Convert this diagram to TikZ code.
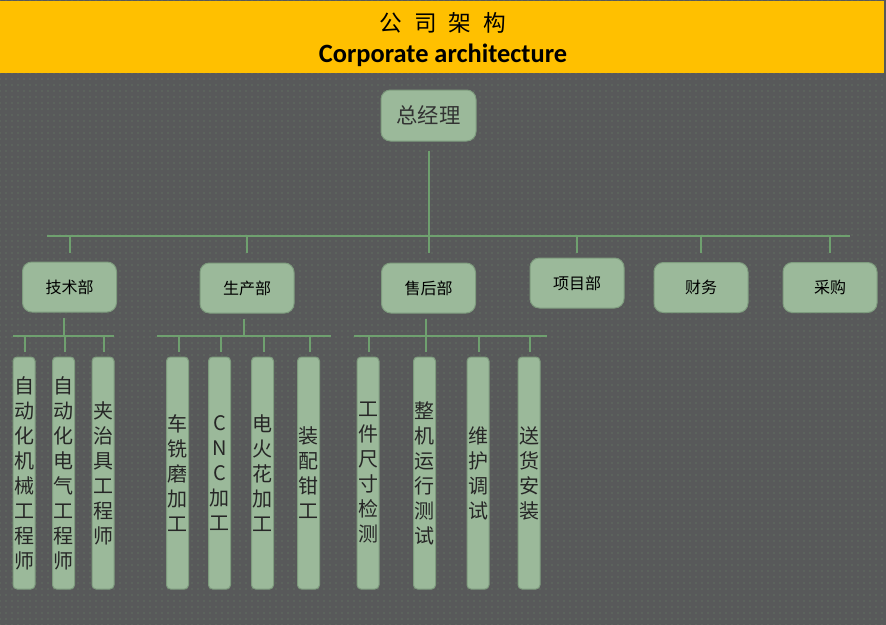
\documentclass[tikz,border=0pt]{standalone}
\usepackage{fontspec}
\setmainfont{Noto Sans CJK SC}
\newfontfamily\entitle{Carlito}
\usetikzlibrary{positioning,patterns.meta}
\definecolor{BgGray}{HTML}{58595A}
\definecolor{DotGreen}{HTML}{6A876A}
\definecolor{Band}{HTML}{FFC000}
\definecolor{Sage}{HTML}{9BB99A}
\definecolor{SageEdge}{HTML}{7E9C7E}
\definecolor{Wire}{HTML}{6FA06F}

\begin{document}
\begin{tikzpicture}[x=0.75pt,y=-0.75pt,
    deptbox/.style={draw=SageEdge,fill=Sage,line width=0.75pt,rounded corners=7pt,
      minimum width=70.5pt,minimum height=37.5pt,inner sep=0pt,
      font=\fontsize{12}{14}\selectfont},
    jobbox/.style={draw=SageEdge,fill=Sage,line width=0.75pt,rounded corners=3pt,
      minimum width=16.5pt,minimum height=174pt,inner sep=0pt,align=center,
      text=black!85,font=\fontsize{15}{18.75}\selectfont},
    link/.style={draw=Wire,line width=1.5pt}]
  % background and title band
  \fill[BgGray] (0,0) rectangle (886,625);
  \fill[pattern={Dots[distance=4.5pt,radius=0.4pt]},pattern color=DotGreen]
    (0,0) rectangle (886,625);
  \useasboundingbox (0,0) rectangle (886,625);
  \fill[Band] (0,1) rectangle (884,73);
  \node (title) at (443,23)
    {\fontsize{17}{20}\selectfont 公\hspace{9pt}司\hspace{9pt}架\hspace{9pt}构};
  \node (subtitle) at (443,55)
    {\entitle\bfseries\fontsize{19.8}{22}\selectfont Corporate architecture};

  % top and departments
  \node[deptbox,minimum width=71.25pt,minimum height=38.25pt,text=black!80,
    font=\fontsize{16}{18}\selectfont] (gm) at (428.5,115.5) {总经理};
  \node[deptbox] (tech) at (69.5,287) {技术部};
  \node[deptbox] (prod) at (247,288) {生产部};
  \node[deptbox] (after) at (428.5,288) {售后部};
  \node[deptbox] (proj) at (577,283) {项目部};
  \node[deptbox] (fin) at (701,287.5) {财务};
  \node[deptbox] (buy) at (830,287.5) {采购};

  \coordinate (busL) at (47,236);
  \coordinate (busR) at (850,236);
  \coordinate (tickend) at (0,253);
  \draw[link] ([yshift=-6.75pt]gm.south) -- (gm.south |- busL);
  \draw[link] (busL) -- (busR);
  \foreach \d in {tech,prod,after,proj,fin,buy}
    \draw[link] (\d.north |- busL) -- (\d.north |- tickend);

  % jobs
  \foreach \n/\x/\txt in {t1/24/{自\\动\\化\\机\\械\\工\\程\\师},
      t2/63.5/{自\\动\\化\\电\\气\\工\\程\\师},
      t3/103/{夹\\治\\具\\工\\程\\师},
      p1/177.5/{车\\铣\\磨\\加\\工},
      p2/219.5/{C\\N\\C\\加\\工},
      p3/262.5/{电\\火\\花\\加\\工},
      p4/308.5/{装\\配\\钳\\工},
      a1/368/{工\\件\\尺\\寸\\检\\测},
      a2/424.5/{整\\机\\运\\行\\测\\试},
      a3/478/{维\\护\\调\\试},
      a4/529/{送\\货\\安\\装}}
    \node[jobbox] (\n) at (\x,473) {\txt};

  \coordinate (techL) at (13,336);
  \coordinate (techR) at (114,336);
  \coordinate (prodL) at (157,336);
  \coordinate (prodR) at (331,336);
  \coordinate (afterL) at (354,336);
  \coordinate (afterR) at (547,336);

  \draw[link] ([xshift=-4pt,yshift=-3.75pt]tech.south) -- ([xshift=-4pt]tech.south |- techL);
  \draw[link] ([xshift=-2.25pt,yshift=-3.75pt]prod.south) -- ([xshift=-2.25pt]prod.south |- prodL);
  \draw[link] ([xshift=-1.9pt,yshift=-3.75pt]after.south) -- ([xshift=-1.9pt]after.south |- afterL);
  \draw[link] (techL) -- (techR);
  \draw[link] (prodL) -- (prodR);
  \draw[link] (afterL) -- (afterR);
  \foreach \n in {t1,t2,t3}
    \draw[link] ([xshift=1pt]\n.north |- techL) -- ([xshift=1pt,yshift=3.75pt]\n.north);
  \foreach \n in {p1,p2,p3,p4}
    \draw[link] ([xshift=1pt]\n.north |- prodL) -- ([xshift=1pt,yshift=3.75pt]\n.north);
  \foreach \n in {a1,a2,a3,a4}
    \draw[link] ([xshift=1pt]\n.north |- afterL) -- ([xshift=1pt,yshift=3.75pt]\n.north);
\end{tikzpicture}
\end{document}
